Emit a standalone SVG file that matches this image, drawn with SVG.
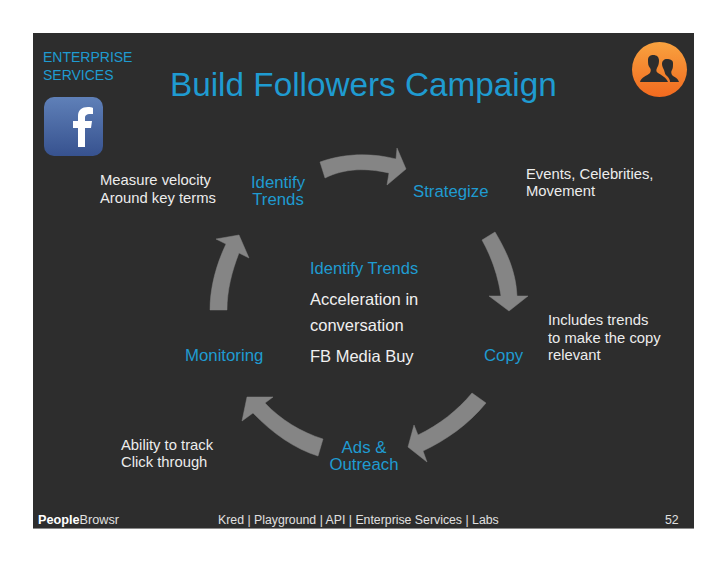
<svg xmlns="http://www.w3.org/2000/svg" width="728" height="563" viewBox="0 0 728 563">
<defs>
<linearGradient id="fb" x1="0" y1="0" x2="0" y2="1"><stop offset="0" stop-color="#5f80b8"/><stop offset="1" stop-color="#37528f"/></linearGradient>
<linearGradient id="org" x1="0" y1="0" x2="0" y2="1"><stop offset="0" stop-color="#f8a23f"/><stop offset="1" stop-color="#f26a1f"/></linearGradient>
</defs>
<style>
text{font-family:"Liberation Sans",Arial,sans-serif}
.b{fill:#1f9bd1;font-size:16.8px}
.w{fill:#ececec;font-size:14.8px}
.c{fill:#f0f0f0;font-size:16.5px}
.f{fill:#e0e0e0;font-size:12.3px}
.ar{fill:#858585;stroke:#858585;stroke-width:.5}
</style>
<rect width="728" height="563" fill="#fff"/>
<rect x="33" y="33" width="661" height="496" fill="#2d2d2d"/>
<rect x="33" y="528" width="661" height="1" fill="#8a8a8a"/>

<g id="header">
<text x="43" y="62" fill="#1f9bd1" font-size="14">ENTERPRISE</text>
<text x="43" y="80" fill="#1f9bd1" font-size="14">SERVICES</text>
<text x="170" y="96" fill="#1f9bd1" font-size="33.300">Build Followers Campaign</text>
</g>
<g id="facebook-icon">
<rect x="44" y="97" width="59" height="59" rx="10" fill="url(#fb)"/>
<path d="M78 147V128H73V121H78V116C78 110 82 107 88 107C90 107 92 107 93 108V114H90C87 114 85 115 85 118V121H92L91 128H85V147Z" fill="#fff"/>
</g>
<g id="people-icon">
<circle cx="659.500" cy="69.500" r="27.500" fill="url(#org)"/>
<path d="M640 82C641 77 647 76 650 73C651 71 651 69 650 68C648 66 648 63 648 60C648 56 651 55 653 55C657 55 659 57 659 61C659 64 658 66 657 68C656 70 656 72 658 73C661 75 666 77 668 82Z" fill="#2d2d2d"/>
<path d="M670 82H679C678 78 674 77 672 75C671 73 671 71 672 70C673 68 673 66 673 63C673 60 670 59 667 59C664 59 662 61 662 64C662 66 663 68 664 70C665 73 665 75 667 76C669 78 670 80 670 82Z" fill="#2d2d2d"/>
</g>

<g id="connectors">
<path class="ar" d="M320 162C345 153 372 153 396 159L397 148L406 169L387 185L389 173C367 168 345 168 325 178Z"/>
<path class="ar" d="M482 240L495 232C507 252 516 272 517 296H528L509 311L489 296H501C498 276 492 258 482 240Z"/>
<path class="ar" d="M472 393L486 403C468 425 446 440 423 451L427 462L408 447L414 425L418 435C439 425 458 410 472 393Z"/>
<path class="ar" d="M323 439L318 456C295 449 272 433 253 413L242 421L247 397L273 397L265 403C281 420 301 432 323 439Z"/>
<path class="ar" d="M210 310H227C227 290 232 271 239 253L249 258L239 235L216 239L226 244C216 265 210 288 210 310Z"/>
</g>

<g id="identify-trends"><text class="b" text-anchor="middle"><tspan x="278" y="188">Identify</tspan><tspan x="278" y="205">Trends</tspan></text></g>
<g id="strategize"><text class="b" x="413" y="197">Strategize</text></g>
<g id="copy"><text class="b" x="484" y="361">Copy</text></g>
<g id="ads-outreach"><text class="b" text-anchor="middle"><tspan x="364" y="453">Ads &amp;</tspan><tspan x="364" y="470">Outreach</tspan></text></g>
<g id="monitoring"><text class="b" x="185" y="361">Monitoring</text></g>

<g id="center">
<text class="b" x="310" y="274" style="font-size:16.500px">Identify Trends</text>
<text class="c" x="310" y="305">Acceleration in</text>
<text class="c" x="310" y="331">conversation</text>
<text class="c" x="310" y="362">FB Media Buy</text>
</g>

<g id="notes">
<text class="w" x="100" y="185">Measure velocity</text>
<text class="w" x="100" y="203">Around key terms</text>
<text class="w" x="526" y="179">Events, Celebrities,</text>
<text class="w" x="526" y="196">Movement</text>
<text class="w" x="548" y="325">Includes trends</text>
<text class="w" x="548" y="343">to make the copy</text>
<text class="w" x="548" y="360">relevant</text>
<text class="w" x="121" y="450">Ability to track</text>
<text class="w" x="121" y="467">Click through</text>
</g>

<g id="footer">
<text class="f" x="38" y="524" style="font-size:12.700px"><tspan font-weight="bold" fill="#fff">People</tspan>Browsr</text>
<text class="f" x="218" y="524">Kred | Playground | API | Enterprise Services | Labs</text>
<text class="f" x="665" y="524">52</text>
</g>
</svg>
